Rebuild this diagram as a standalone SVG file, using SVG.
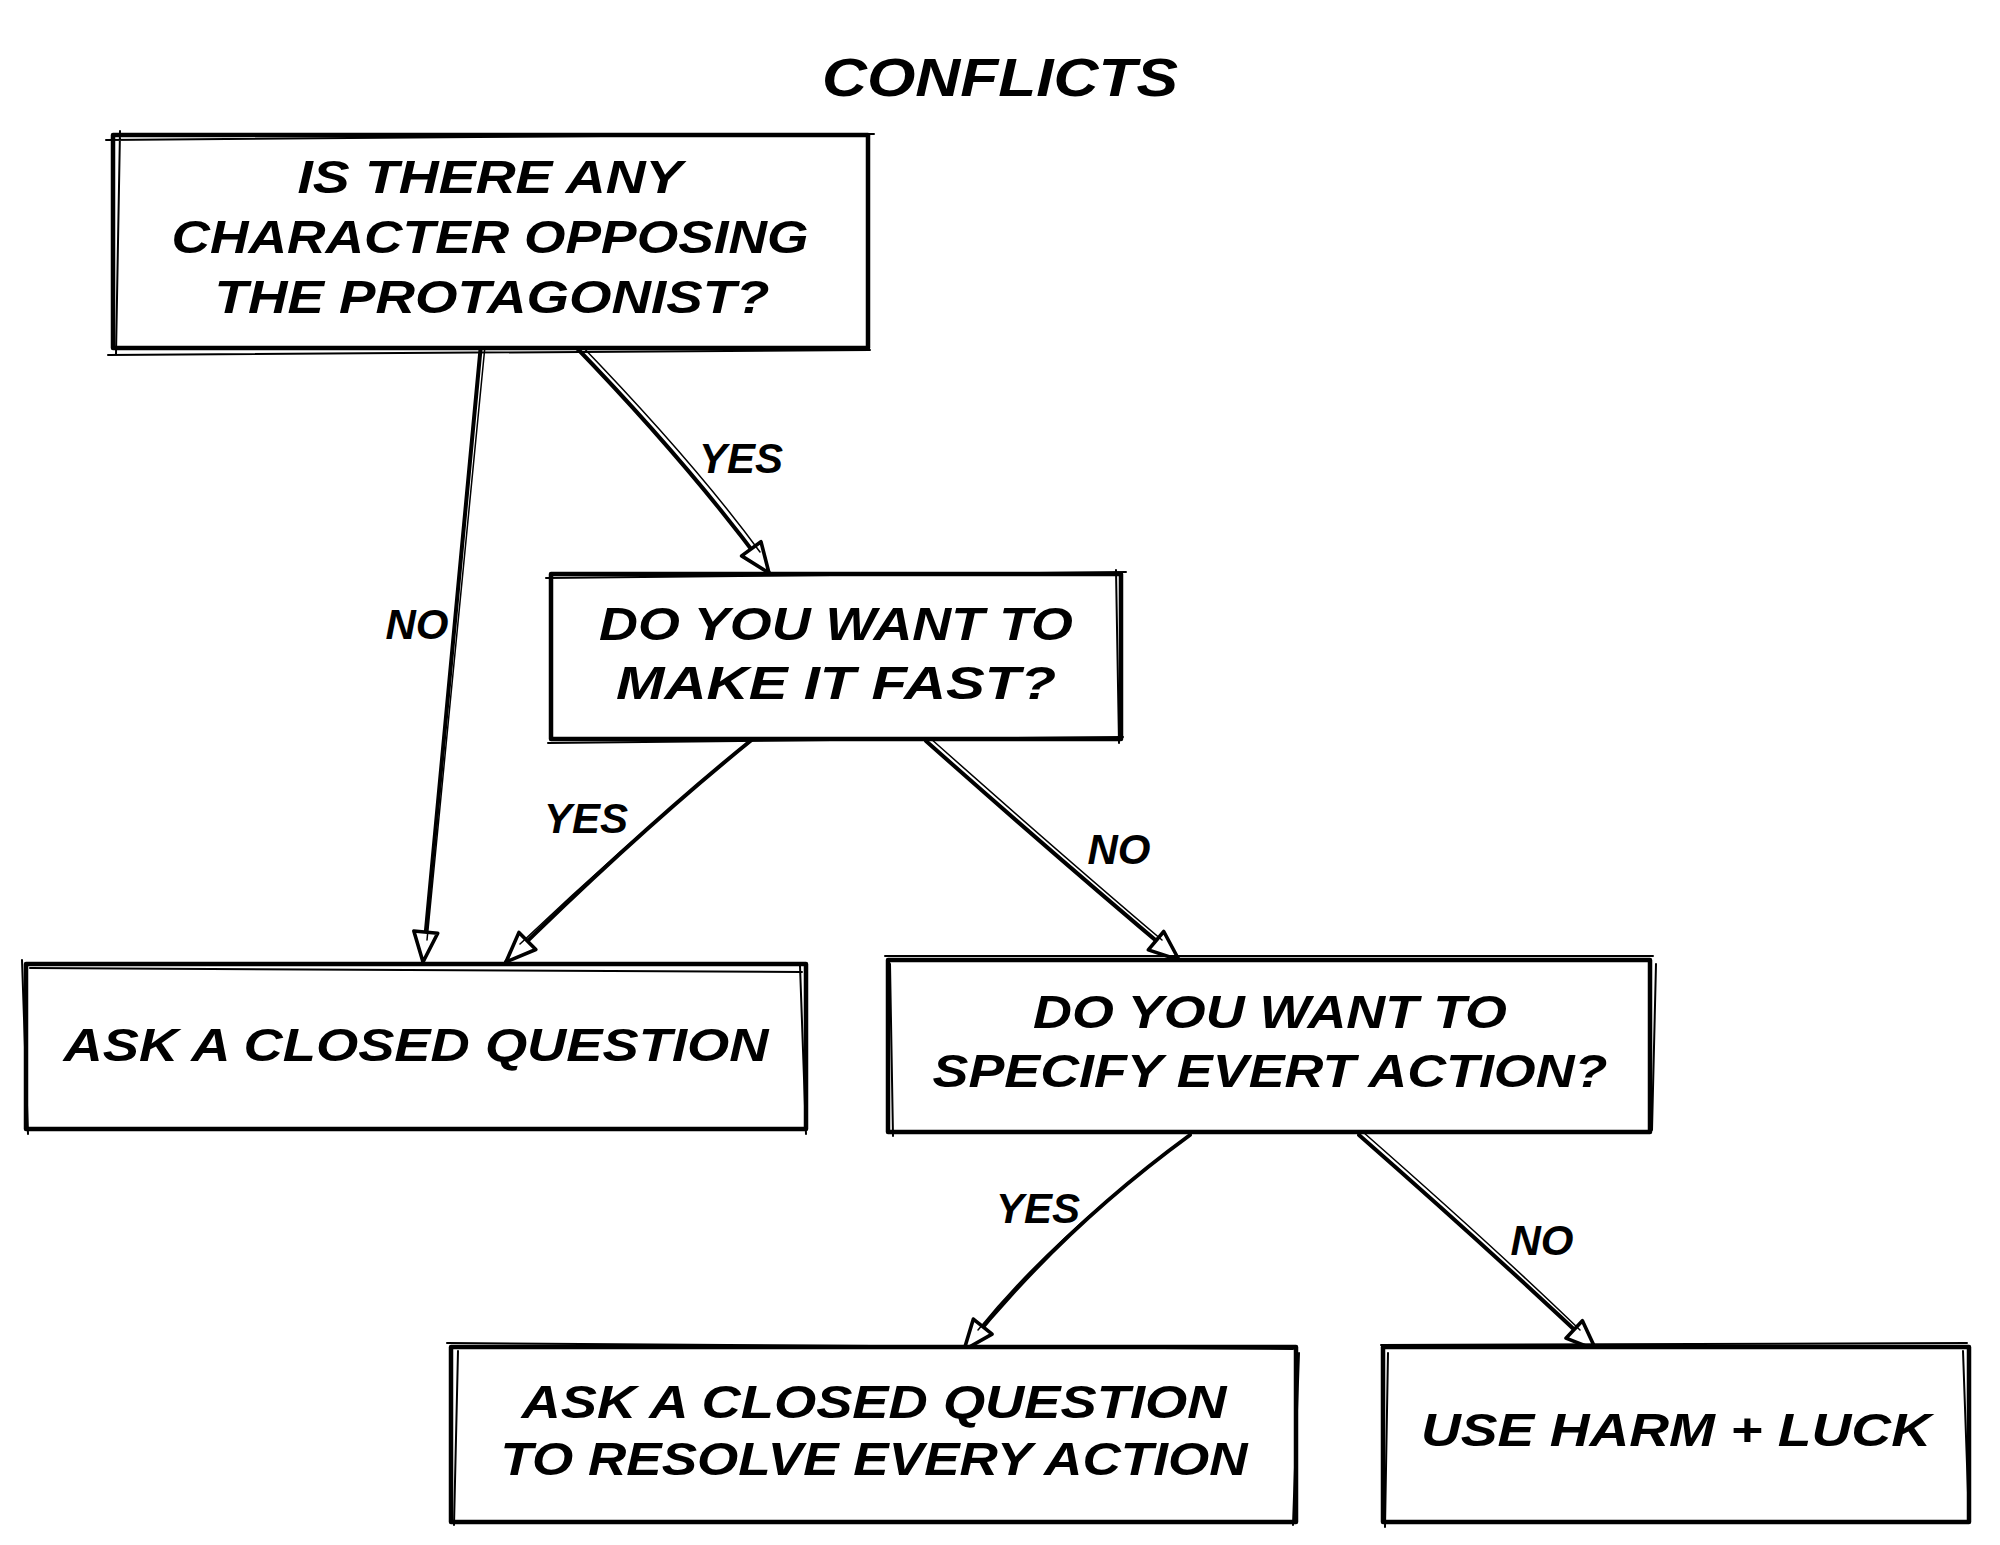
<svg xmlns="http://www.w3.org/2000/svg" width="2000" height="1545" viewBox="0 0 2000 1545">
<style>
.box{fill:#ffffff;stroke:#000000;stroke-width:4.5;stroke-linejoin:round}
.sk{fill:none;stroke:#000000;stroke-width:2;stroke-linecap:round}
.t{font-family:"Liberation Sans",Arial,sans-serif;font-weight:bold;font-style:italic;font-size:46px;fill:#000000;text-anchor:middle;dominant-baseline:central}
.lbl{font-family:"Liberation Sans",Arial,sans-serif;font-weight:bold;font-style:italic;font-size:42px;fill:#000000;text-anchor:middle;dominant-baseline:central}
.title{font-family:"Liberation Sans",Arial,sans-serif;font-weight:bold;font-style:italic;font-size:54px;fill:#000000;text-anchor:middle;dominant-baseline:central}
.arr{fill:none;stroke:#000000;stroke-width:4;stroke-linecap:round;marker-end:url(#ah)}
.arr2{fill:none;stroke:#000000;stroke-width:1.5;stroke-linecap:round}
</style>
<defs>
<marker id="ah" viewBox="0 0 12 10" refX="11" refY="5" markerWidth="36" markerHeight="30" markerUnits="userSpaceOnUse" orient="auto">
<path d="M1,1 L11,5 L1,9 z" fill="#ffffff" stroke="#000000" stroke-width="1.2" stroke-linejoin="round"/>
</marker>
</defs>
<rect width="2000" height="1545" fill="#ffffff"/>
<text class="title" x="1000" y="77" textLength="356" lengthAdjust="spacingAndGlyphs">CONFLICTS</text>
<g id="connectors">
<path class="arr" d="M481,344 Q452,650 423,962"/>
<path class="arr2" d="M485,346 Q455,650 427,940"/>
<path class="arr" d="M573,344 Q690,465 769,573"/>
<path class="arr2" d="M578,342 Q694,462 760,552"/>
<path class="arr" d="M754,738 Q640,830 506,962"/>
<path class="arr2" d="M750,742 Q636,834 520,944"/>
<path class="arr" d="M926,741 Q1060,860 1179,960"/>
<path class="arr2" d="M930,738 Q1064,857 1162,940"/>
<path class="arr" d="M1190,1135 Q1060,1230 964,1350"/>
<path class="arr2" d="M1186,1138 Q1056,1234 978,1330"/>
<path class="arr" d="M1359,1135 Q1490,1250 1596,1350"/>
<path class="arr2" d="M1363,1132 Q1494,1247 1580,1330"/>
<text class="lbl" x="417" y="624">NO</text>
<text class="lbl" x="741" y="458">YES</text>
<text class="lbl" x="586" y="818">YES</text>
<text class="lbl" x="1119" y="849">NO</text>
<text class="lbl" x="1038" y="1208">YES</text>
<text class="lbl" x="1542" y="1240">NO</text>
</g>
<g id="node-opponent">
<rect class="box" x="113" y="135" width="755" height="213"/>
<path class="sk" d="M106,140 L874,134 M120,131 L116,354 M108,355 L870,350"/>
<text class="t" x="490" y="177" textLength="385" lengthAdjust="spacingAndGlyphs">IS THERE ANY</text>
<text class="t" x="490" y="237" textLength="637" lengthAdjust="spacingAndGlyphs">CHARACTER OPPOSING</text>
<text class="t" x="492" y="297" textLength="555" lengthAdjust="spacingAndGlyphs">THE PROTAGONIST?</text>
</g>
<g id="node-fast">
<rect class="box" x="551" y="574" width="570" height="165"/>
<path class="sk" d="M546,578 L1126,572 M1116,570 L1119,743 M548,743 L1123,737"/>
<text class="t" x="836" y="624" textLength="474" lengthAdjust="spacingAndGlyphs">DO YOU WANT TO</text>
<text class="t" x="836" y="683" textLength="440" lengthAdjust="spacingAndGlyphs">MAKE IT FAST?</text>
</g>
<g id="node-closed">
<rect class="box" x="26" y="964" width="780" height="165"/>
<path class="sk" d="M22,960 L28,1134 M30,968 L802,972 M800,966 L806,1134"/>
<text class="t" x="416" y="1045" textLength="705" lengthAdjust="spacingAndGlyphs">ASK A CLOSED QUESTION</text>
</g>
<g id="node-specify">
<rect class="box" x="888" y="960" width="762" height="172"/>
<path class="sk" d="M885,956 L1653,956 M890,964 L893,1136 M1656,964 L1652,1130"/>
<text class="t" x="1270" y="1012" textLength="474" lengthAdjust="spacingAndGlyphs">DO YOU WANT TO</text>
<text class="t" x="1270" y="1071" textLength="675" lengthAdjust="spacingAndGlyphs">SPECIFY EVERT ACTION?</text>
</g>
<g id="node-resolve">
<rect class="box" x="451" y="1347" width="845" height="175"/>
<path class="sk" d="M447,1343 L1293,1349 M458,1351 L454,1525 M1299,1353 L1293,1525"/>
<text class="t" x="874" y="1402" textLength="705" lengthAdjust="spacingAndGlyphs">ASK A CLOSED QUESTION</text>
<text class="t" x="874" y="1459" textLength="747" lengthAdjust="spacingAndGlyphs">TO RESOLVE EVERY ACTION</text>
</g>
<g id="node-harm">
<rect class="box" x="1383" y="1347" width="586" height="175"/>
<path class="sk" d="M1381,1345 L1967,1343 M1388,1353 L1385,1527 M1963,1351 L1969,1521"/>
<text class="t" x="1676" y="1430" textLength="510" lengthAdjust="spacingAndGlyphs">USE HARM + LUCK</text>
</g>
</svg>
